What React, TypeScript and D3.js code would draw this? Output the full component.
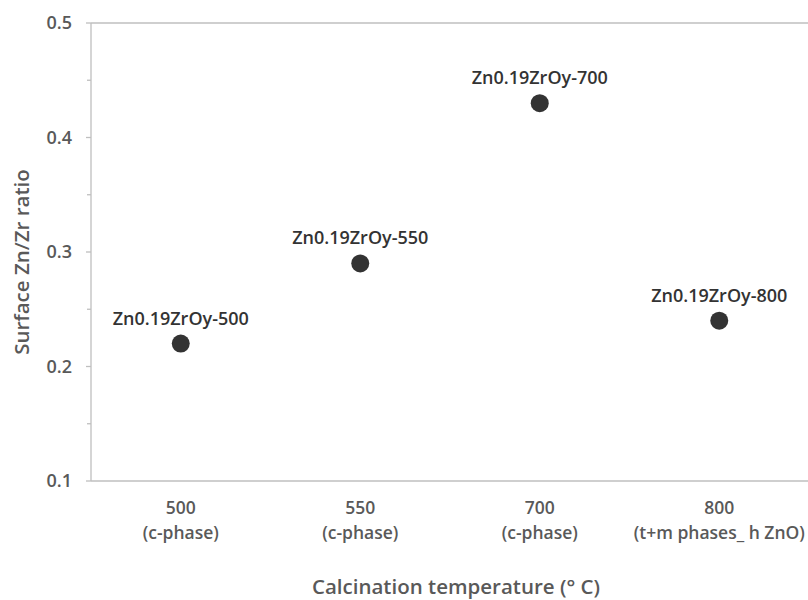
import React from "react";
import * as d3 from "d3";

const categories = ["500", "550", "700", "800"];
const subLabels = ["(c-phase)", "(c-phase)", "(c-phase)", "(t+m phases_ h ZnO)"];
const values = [0.22, 0.29, 0.43, 0.24];
const pointLabels = ["Zn0.19ZrOy-500", "Zn0.19ZrOy-550", "Zn0.19ZrOy-700", "Zn0.19ZrOy-800"];
const yTicks = [0.1, 0.2, 0.3, 0.4, 0.5];
const yMinorTicks = [0.15, 0.25, 0.35, 0.45];

const W = 808, H = 600;
const left = 91, right = 809, top = 23, bottom = 481;
const FONT = "'Open Sans', sans-serif";
const TXT = "#595959";

export default function App() {
  const x = d3.scalePoint<string>().domain(categories).range([left, right]).padding(0.5);
  const y = d3.scaleLinear().domain([0.1, 0.5]).range([bottom, top]);
  return (
    <svg width={W} height={H} style={{ position: "absolute", left: 0, top: 0 }} fontFamily={FONT}>
      <rect width={W} height={H} fill="#fff" />
      <line x1={left} x2={right} y1={y(0.5)} y2={y(0.5)} stroke="#bfbfbf" strokeWidth={1.3} />
      <line x1={left} x2={right} y1={bottom} y2={bottom} stroke="#bfbfbf" strokeWidth={1.3} />
      <line x1={left} x2={left} y1={top} y2={bottom} stroke="#bfbfbf" strokeWidth={1.3} />
      {yTicks.map((t) => (
        <g key={t}>
          <line x1={left - 5} x2={left} y1={y(t)} y2={y(t)} stroke="#bfbfbf" strokeWidth={1.3} />
          <text x={72} y={y(t)} dy="0.36em" textAnchor="end" fontSize={18} fontWeight={600} fill={TXT}>
            {t.toFixed(1)}
          </text>
        </g>
      ))}
      {yMinorTicks.map((t) => (
        <line key={t} x1={left - 4} x2={left} y1={y(t)} y2={y(t)} stroke="#bfbfbf" strokeWidth={1.3} />
      ))}
      {categories.map((c, i) => (
        <g key={c}>
          <text x={x(c)} y={514} textAnchor="middle" fontSize={17.5} fontWeight={600} fill={TXT}>{c}</text>
          <text x={x(c)} y={539} textAnchor="middle" fontSize={17.5} fontWeight={600} fill={TXT}>{subLabels[i]}</text>
        </g>
      ))}
      {categories.map((c, i) => (
        <g key={"p" + c}>
          <circle cx={x(c)} cy={y(values[i])} r={9} fill="#333333" />
          <text x={x(c)} y={y(values[i]) - 19} textAnchor="middle" fontSize={18} fontWeight={600} fill="#333">
            {pointLabels[i]}
          </text>
        </g>
      ))}
      <text x={456} y={594} textAnchor="middle" fontSize={20.5} fontWeight={600} fill={TXT}>
        Calcination temperature (° C)
      </text>
      <text transform={`translate(29,262) rotate(-90)`} textAnchor="middle" fontSize={20.5} fontWeight={600} fill={TXT}>
        Surface Zn/Zr ratio
      </text>
    </svg>
  );
}
